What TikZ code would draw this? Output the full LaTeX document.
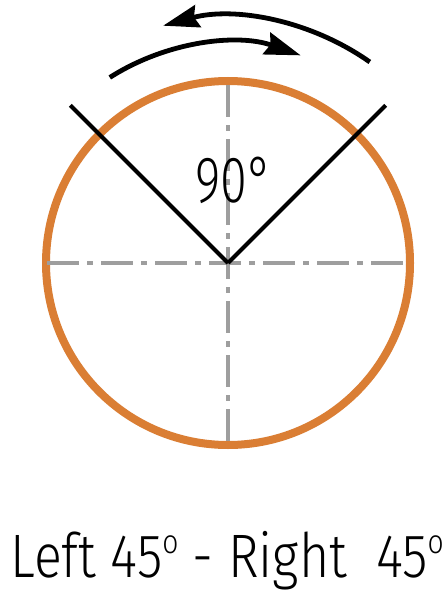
\documentclass[tikz,border=0pt]{standalone}
\usepackage{graphicx}
\usepackage{fontspec}
\IfFontExistsTF{Fira Sans Light}{%
  \setmainfont{Fira Sans Light}
  \newcommand{\capsize}{\fontsize{46}{54}\selectfont}
  \newcommand{\numsize}{\fontsize{49}{56}\selectfont}
  \newcommand{\degring}{\raisebox{18pt}{\fontsize{25}{25}\selectfont o}}
}{%
  \setmainfont{Carlito}
  \newcommand{\capsize}{\fontsize{49}{56}\selectfont}
  \newcommand{\numsize}{\fontsize{53}{60}\selectfont}
  \newcommand{\degring}{\raisebox{18pt}{\fontsize{28}{28}\selectfont o}}
}
\usetikzlibrary{arrows.meta}

\tikzset{every picture/.style={line width=0.75pt}}
\definecolor{rimorange}{RGB}{218,126,52}
\definecolor{axisgray}{RGB}{158,158,158}
\tikzset{
  rim/.style={draw=rimorange, line width=6pt},
  axisline/.style={draw=axisgray, line width=3pt, dash pattern=on 24pt off 6pt on 4.5pt off 6pt},
  vline/.style={draw=black, line width=3pt},
  turnarrow/.style={draw=black, line width=3.6pt, -{Stealth[length=27pt,width=17pt,inset=3pt]}}
}

\begin{document}
\begin{tikzpicture}[x=0.75pt,y=0.75pt,yscale=-1,xscale=1]
\useasboundingbox (0,0) rectangle (448,592);

% centre of the dial
\coordinate (o) at (228,263);

%Circle
\draw [rim] (o) circle [radius=182];

%Dash-dot axes
\draw [axisline] (o) ++(-181,0) -- ++(362,0);
\draw [axisline] (o) ++(0,-178) -- ++(0,358);

%Straight Lines (the V)
\draw [vline] (o) -- ++(-135:223);
\draw [vline] (o) -- ++(-45:223);

%Curve Lines (turn arrows)
\draw [turnarrow] (o) ++(-122.5:220) arc [start angle=-122.5, end angle=-70.7, radius=220];
\draw [turnarrow] (o) ++(-54.8:246) arc [start angle=-54.8, end angle=-105.3, radius=246];

% Text Node
\node (angle) [anchor=base west, inner sep=0pt, font=\numsize] at (195,202) {\resizebox{58pt}{\height}{90°}};
% Text Node
\node (caption) [anchor=base west, inner sep=0pt, font=\capsize] at (10,577) {\resizebox{325pt}{\height}{Left 45\degring{} - Right\ \ 45\degring}};

\end{tikzpicture}
\end{document}
